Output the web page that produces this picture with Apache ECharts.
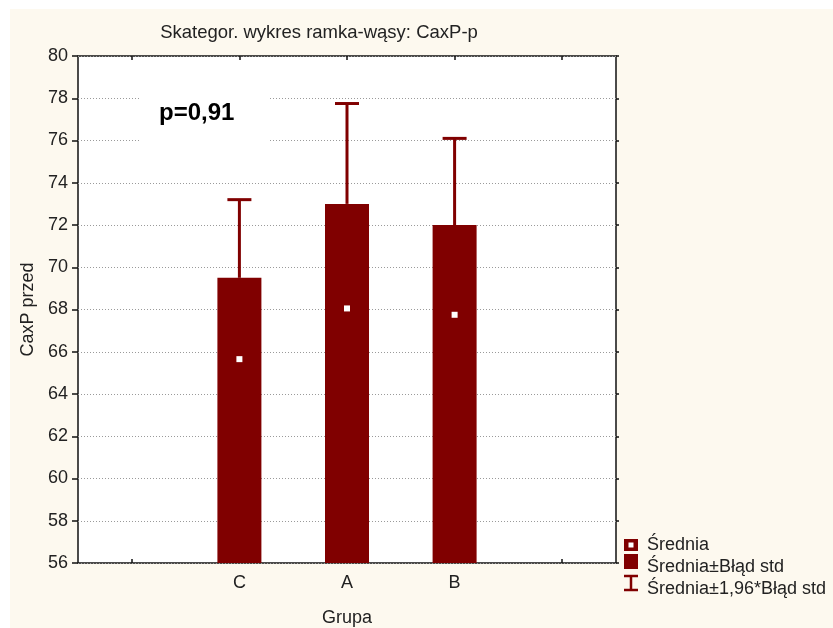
<!DOCTYPE html>
<html>
<head>
<meta charset="utf-8">
<title>Skategor. wykres ramka-wąsy: CaxP-p</title>
<script src="https://cdn.jsdelivr.net/npm/echarts@6/dist/echarts.min.js"></script>
<style>
  html, body { margin: 0; padding: 0; background: #ffffff; }
  #chart { width: 833px; height: 628px; }
</style>
</head>
<body>
<div id="chart"></div>
<script>
// Category slots on the x axis (empty slots pad both ends)
const groups = ['', 'C', 'A', 'B', ''];
// Groups that carry data
const dataGroups = ['C', 'A', 'B'];
// Mean of CaxP before, per group
const means = [65.65, 68.05, 67.75];
// Upper edge of the mean ± standard error box
const seUpper = [69.5, 73.0, 72.0];
// Upper end of the mean ± 1.96 * standard error whisker
const ciUpper = [73.2, 77.75, 76.1];
// Value axis range and step
const yMin = 56, yMax = 80, yStep = 2;

const DARK_RED = '#800000';
const FONT = 'Liberation Sans';
const TEXT = '#222';

const chart = echarts.init(document.getElementById('chart'), null, { renderer: 'canvas' });

const barData = dataGroups.map((g, i) => [g, seUpper[i]]);
const whiskerData = dataGroups.map((g, i) => [g, seUpper[i], ciUpper[i]]);
const meanData = dataGroups.map((g, i) => [g, means[i]]);

// Vertical whisker from the box top up to the interval end, with a cap
function renderWhisker(params, api) {
  const lo = api.coord([api.value(0), api.value(1)]);
  const hi = api.coord([api.value(0), api.value(2)]);
  const half = 12;
  const style = { stroke: DARK_RED, lineWidth: 3 };
  return {
    type: 'group',
    children: [
      { type: 'line', shape: { x1: lo[0], y1: lo[1], x2: hi[0], y2: hi[1] }, style: style },
      { type: 'line', shape: { x1: hi[0] - half, y1: hi[1], x2: hi[0] + half, y2: hi[1] }, style: style }
    ]
  };
}

const legendX = 624, legendTextX = 647;
const legendFont = '18px "Liberation Sans", Arial, sans-serif';

const option = {
  backgroundColor: '#ffffff',
  animation: false,
  graphic: [
    // cream panel behind the chart
    {
      type: 'rect', z: -10, silent: true,
      shape: { x: 10, y: 9, width: 823, height: 619 },
      style: { fill: '#fdf9ef' }
    },
    // chart title
    {
      type: 'text', z: 11, silent: true,
      x: 319, y: 33,
      style: {
        text: 'Skategor. wykres ramka-wąsy: CaxP-p',
        font: '18.5px "Liberation Sans", Arial, sans-serif',
        fill: TEXT, align: 'center', verticalAlign: 'middle'
      }
    },
    // p-value note on a white patch
    {
      type: 'rect', z: 10, silent: true,
      shape: { x: 140, y: 92, width: 128, height: 52 },
      style: { fill: '#ffffff' }
    },
    {
      type: 'text', z: 11, silent: true,
      x: 159, y: 113,
      style: { text: 'p=0,91', font: 'bold 24px "Liberation Sans", Arial, sans-serif', fill: '#000', verticalAlign: 'middle' }
    },
    // legend: mean marker
    {
      type: 'rect', z: 10, silent: true,
      shape: { x: legendX, y: 539, width: 14, height: 12 },
      style: { fill: DARK_RED }
    },
    {
      type: 'rect', z: 11, silent: true,
      shape: { x: legendX + 4.5, y: 542.5, width: 5, height: 5 },
      style: { fill: '#ffffff' }
    },
    {
      type: 'text', z: 11, silent: true,
      x: legendTextX, y: 545,
      style: { text: 'Średnia', font: legendFont, fill: TEXT, verticalAlign: 'middle' }
    },
    // legend: standard error box
    {
      type: 'rect', z: 10, silent: true,
      shape: { x: legendX, y: 554, width: 14, height: 15 },
      style: { fill: DARK_RED }
    },
    {
      type: 'text', z: 11, silent: true,
      x: legendTextX, y: 567,
      style: { text: 'Średnia±Błąd std', font: legendFont, fill: TEXT, verticalAlign: 'middle' }
    },
    // legend: 1.96 * standard error whisker
    {
      type: 'polyline', z: 10, silent: true,
      shape: { points: [[legendX, 576], [legendX + 14, 576]] },
      style: { stroke: DARK_RED, lineWidth: 2.5 }
    },
    {
      type: 'polyline', z: 10, silent: true,
      shape: { points: [[legendX + 7, 576], [legendX + 7, 590]] },
      style: { stroke: DARK_RED, lineWidth: 2.5 }
    },
    {
      type: 'polyline', z: 10, silent: true,
      shape: { points: [[legendX, 590], [legendX + 14, 590]] },
      style: { stroke: DARK_RED, lineWidth: 2.5 }
    },
    {
      type: 'text', z: 11, silent: true,
      x: legendTextX, y: 589,
      style: { text: 'Średnia±1,96*Błąd std', font: legendFont, fill: TEXT, verticalAlign: 'middle' }
    }
  ],
  grid: {
    left: 78, top: 56, right: 217, bottom: 65,
    outerBoundsMode: 'none',
    containLabel: false,
    show: true,
    backgroundColor: '#ffffff',
    borderColor: '#111',
    borderWidth: 1.5
  },
  xAxis: [
    {
      type: 'category',
      data: groups,
      position: 'bottom',
      boundaryGap: true,
      axisLine: { show: false },
      axisTick: { show: true, alignWithLabel: true, inside: true, length: 4, lineStyle: { color: '#111', width: 1.5 } },
      axisLabel: { fontFamily: FONT, fontSize: 18, color: TEXT, margin: 11 },
      name: 'Grupa',
      nameLocation: 'middle',
      nameGap: 46,
      nameTextStyle: { fontFamily: FONT, fontSize: 18, color: TEXT },
      splitLine: { show: false }
    },
    {
      type: 'category',
      data: groups,
      position: 'top',
      boundaryGap: true,
      axisLine: { show: false },
      axisTick: { show: true, alignWithLabel: true, inside: true, length: 4, lineStyle: { color: '#111', width: 1.5 } },
      axisLabel: { show: false },
      splitLine: { show: false }
    }
  ],
  yAxis: [
    {
      type: 'value',
      min: yMin, max: yMax, interval: yStep,
      position: 'left',
      axisLine: { show: false },
      axisTick: { show: true, inside: false, length: 6, lineStyle: { color: '#111', width: 1.5 } },
      axisLabel: { fontFamily: FONT, fontSize: 18, color: TEXT, margin: 10 },
      splitLine: { show: true, lineStyle: { color: '#9a9a9a', width: 1, type: [1, 2] } },
      name: 'CaxP przed',
      nameLocation: 'middle',
      nameGap: 40,
      nameRotate: 90,
      nameTextStyle: { fontFamily: FONT, fontSize: 18, color: TEXT }
    },
    {
      type: 'value',
      min: yMin, max: yMax, interval: yStep,
      position: 'right',
      axisLine: { show: false },
      axisTick: { show: true, inside: false, length: 3, lineStyle: { color: '#111', width: 1.5 } },
      axisLabel: { show: false },
      splitLine: { show: false }
    }
  ],
  series: [
    {
      name: 'Średnia±Błąd std',
      type: 'bar',
      xAxisIndex: 0, yAxisIndex: 0,
      data: barData,
      barWidth: 44,
      itemStyle: { color: DARK_RED },
      z: 2
    },
    {
      name: 'Średnia±1,96*Błąd std',
      type: 'custom',
      xAxisIndex: 0, yAxisIndex: 0,
      data: whiskerData,
      encode: { x: 0, y: [1, 2] },
      renderItem: renderWhisker,
      z: 3
    },
    {
      name: 'Średnia',
      type: 'scatter',
      xAxisIndex: 0, yAxisIndex: 0,
      data: meanData,
      symbol: 'rect',
      symbolSize: 6,
      itemStyle: { color: '#ffffff', opacity: 1 },
      z: 4
    }
  ]
};

chart.setOption(option);
</script>
</body>
</html>
